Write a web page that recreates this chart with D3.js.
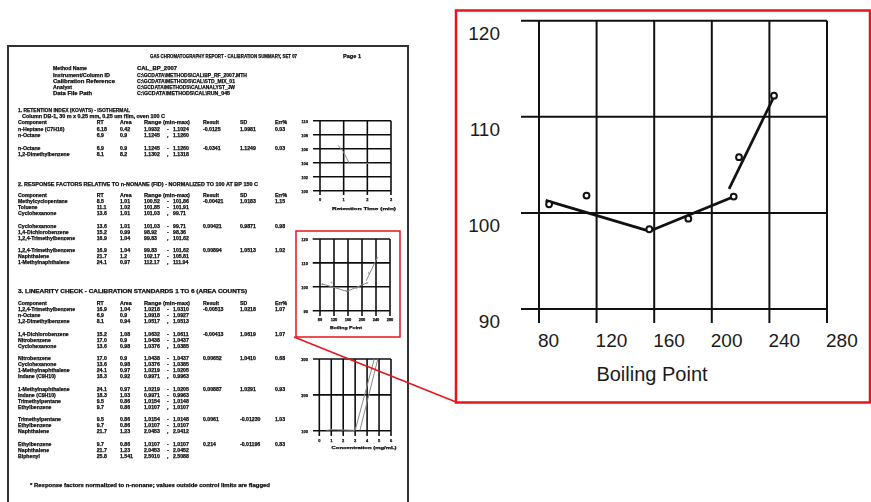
<!DOCTYPE html>
<html>
<head>
<meta charset="utf-8">
<script src="https://cdn.jsdelivr.net/npm/d3@7"></script>
<style>
  body { margin: 0; background: #fff; }
  svg { display: block; }
</style>
</head>
<body>
<svg id="fig" width="871" height="502"></svg>
<script>
// ---------- Enlarged calibration plot: response vs boiling point ----------
const boilingPoint = [87, 113, 156.6, 183.7, 215.2, 218.9, 243.2];
const response     = [100.9, 101.8, 98.3, 99.4, 101.7, 105.8, 112.2];
// piecewise fit, low-boiling branch and high-boiling branch
const fitLowBP  = [84.6, 156.6, 213.8];
const fitLowRF  = [101.3, 98.1, 101.6];
const fitHighBP = [212, 243.2];
const fitHighRF = [102.5, 112.1];
const bpTicks = [80, 120, 160, 200, 240, 280];
const rfTicks = [90, 100, 110, 120];
const xTitle = "Boiling Point";

// ---------- Report page text ----------
const reportTitle = "GAS CHROMATOGRAPHY REPORT - CALIBRATION SUMMARY, SET 07";
const pageLabel = "Page 1";
const infoLabels = ["Method Name", "Instrument/Column ID", "Calibration Reference", "Analyst", "Data File Path"];
const infoValues = ["CAL_BP_2007", "C:\\GCDATA\\METHODS\\CAL\\BP_RF_2007.MTH", "C:\\GCDATA\\METHODS\\CAL\\STD_MIX_01",
                    "C:\\GCDATA\\METHODS\\CAL\\ANALYST_JW", "C:\\GCDATA\\METHODS\\CAL\\RUN_045"];
const colHeader = ["Component", "RT", "Area", "Range (min-max)", "Result", "SD", "Err%"];

const sec1Heading = ["1. RETENTION INDEX (KOVATS) - ISOTHERMAL",
                     "Column DB-1, 30 m x 0.25 mm, 0.25 um film, oven 100 C"];
const sec1Rows = [
  [["n-Heptane (C7H16)", "6.18", "0.42", "1.0932", "1.1024", "-0.0125", "1.0981", "0.03"],
   ["n-Octane", "6.9", "0.9", "1.1245", "1.1260"]],
  [["n-Octane", "6.9", "0.9", "1.1245", "1.1260", "-0.0341", "1.1249", "0.03"],
   ["1,2-Dimethylbenzene", "8.1", "8.2", "1.1302", "1.1318"]]
];

const sec2Heading = "2. RESPONSE FACTORS RELATIVE TO n-NONANE (FID) - NORMALIZED TO 100 AT BP 150 C";
const sec2Rows = [
  [["Methylcyclopentane", "8.5", "1.01", "100.52", "101.86", "-0.00421", "1.0183", "1.15"],
   ["Toluene", "11.1", "1.02", "101.85", "101.91"],
   ["Cyclohexanone", "13.6", "1.01", "101.03", "99.71"]],
  [["Cyclohexanone", "13.6", "1.01", "101.03", "99.71", "0.00421", "0.9871", "0.98"],
   ["1,4-Dichlorobenzene", "15.2", "0.99", "98.92", "98.36"],
   ["1,2,4-Trimethylbenzene", "16.9", "1.04", "99.83", "101.62"]],
  [["1,2,4-Trimethylbenzene", "16.9", "1.04", "99.83", "101.62", "0.00894", "1.0513", "1.02"],
   ["Naphthalene", "21.7", "1.2", "102.17", "105.81"],
   ["1-Methylnaphthalene", "24.1", "0.97", "112.17", "111.94"]]
];

const sec3Heading = "3. LINEARITY CHECK - CALIBRATION STANDARDS 1 TO 6 (AREA COUNTS)";
const sec3Rows = [
  [["1,2,4-Trimethylbenzene", "16.9", "1.04", "1.0218", "1.0310", "-0.00513", "1.0218", "1.07"],
   ["n-Octane", "6.9", "0.9", "1.0918", "1.0927"],
   ["1,2-Dimethylbenzene", "8.1", "0.94", "1.0517", "1.0513"]],
  [["1,4-Dichlorobenzene", "15.2", "1.08", "1.0632", "1.0611", "-0.00413", "1.0619", "1.07"],
   ["Nitrobenzene", "17.0", "0.9", "1.0438", "1.0437"],
   ["Cyclohexanone", "13.6", "0.98", "1.0376", "1.0385"]],
  [["Nitrobenzene", "17.0", "0.9", "1.0438", "1.0437", "0.00652", "1.0410", "0.68"],
   ["Cyclohexanone", "13.6", "0.98", "1.0376", "1.0385"],
   ["1-Methylnaphthalene", "24.1", "0.97", "1.0219", "1.0205"],
   ["Indane (C9H10)", "18.3", "0.92", "0.9971", "0.9963"]],
  [["1-Methylnaphthalene", "24.1", "0.97", "1.0219", "1.0205", "0.00887", "1.0291", "0.93"],
   ["Indane (C9H10)", "18.3", "1.03", "0.9971", "0.9963"],
   ["Trimethylpentane", "9.5", "0.86", "1.0154", "1.0148"],
   ["Ethylbenzene", "9.7", "0.86", "1.0107", "1.0107"]],
  [["Trimethylpentane", "9.5", "0.86", "1.0154", "1.0148", "0.0061", "-0.01230", "1.03"],
   ["Ethylbenzene", "9.7", "0.86", "1.0107", "1.0107"],
   ["Naphthalene", "21.7", "1.23", "2.0453", "2.0412"]],
  [["Ethylbenzene", "9.7", "0.86", "1.0107", "1.0107", "0.214", "-0.01196", "0.83"],
   ["Naphthalene", "21.7", "1.23", "2.0453", "2.0452"],
   ["Biphenyl", "25.8", "1.541", "2.5010", "2.5088"]]
];
const footerNote = "* Response factors normalized to n-nonane; values outside control limits are flagged";

// small page plots
const rtTicks = [0, 1, 2, 3];
const riTicks = [100, 102, 104, 106, 108, 110];
const riTraceX = [0.76, 0.98, 1.24, 2.18];
const riTraceY = [106.5, 105.6, 103.9, 103.9];
const rtTitle = "Retention Time (min)";
const concTicks = [0, 1, 2, 3, 4, 5, 6];
const areaTicks = [100, 200, 300];
const linTraceAX = [0.6, 1.1, 3.0, 4.6];
const linTraceAY = [101, 103, 101, 300];
const linTraceBX = [3.4, 4.9];
const linTraceBY = [101, 300];
const concTitle = "Concentration (mg/mL)";

// ================== drawing ==================
const svg = d3.select("#fig");
svg.append("rect").attr("width", 871).attr("height", 502).attr("fill", "#fff");

const defs = svg.append("defs");
defs.append("filter").attr("id", "soft")
  .attr("x", "-2%").attr("y", "-2%").attr("width", "104%").attr("height", "104%")
  .append("feGaussianBlur").attr("stdDeviation", 0.5);

const page = svg.append("g").attr("filter", "url(#soft)");
page.append("rect")
  .attr("x", 8).attr("y", 46).attr("width", 400).attr("height", 480)
  .attr("fill", "#fff").attr("stroke", "#333").attr("stroke-width", 2);

const FONT = "'Liberation Sans', Arial, sans-serif";
function tiny(g, x, y, s, opt = {}) {
  const t = g.append("text")
    .attr("x", x).attr("y", y)
    .attr("dominant-baseline", "central")
    .attr("font-family", FONT)
    .attr("font-size", opt.size || 5.2)
    .attr("font-weight", "bold")
    .attr("fill", "#0d0d0d")
    .attr("stroke", "#0d0d0d")
    .attr("stroke-width", 0.25)
    .attr("text-anchor", opt.anchor || "start")
    .text(s);
  if (opt.len) t.attr("textLength", opt.len).attr("lengthAdjust", "spacingAndGlyphs");
  return t;
}

// header block
tiny(page, 150, 55.5, reportTitle, { len: 147 });
tiny(page, 343, 55.5, pageLabel, { len: 18 });
const infoY = [67.5, 74.5, 80.5, 86.5, 92.5];
const infoLabelLen = [34, 57, 62, 19, 39];
const infoValueLen = [40, 110, 98, 98, 93];
infoLabels.forEach((s, i) => tiny(page, 53, infoY[i], s, { len: infoLabelLen[i] }));
infoValues.forEach((s, i) => tiny(page, 137, infoY[i], s, { len: infoValueLen[i] }));

// table columns
const colX = { name: 18, rt: 96.7, area: 120, min: 144, dash: 167, max: 173, res: 203, sd: 240, err: 275 };
function header(y) {
  tiny(page, colX.name, y, colHeader[0]);
  tiny(page, colX.rt, y, colHeader[1]);
  tiny(page, colX.area, y, colHeader[2]);
  tiny(page, colX.min, y, colHeader[3], { len: 46 });
  tiny(page, colX.res, y, colHeader[4]);
  tiny(page, colX.sd, y, colHeader[5]);
  tiny(page, colX.err, y, colHeader[6]);
}
function groups(rows, y0, step, gap) {
  let y = y0;
  rows.forEach(group => {
    group.forEach((r, i) => {
      tiny(page, colX.name, y, r[0]);
      tiny(page, colX.rt, y, r[1]);
      tiny(page, colX.area, y, r[2]);
      tiny(page, colX.min, y, r[3]);
      tiny(page, colX.dash, y, i === group.length - 1 ? "," : "-");
      tiny(page, colX.max, y, r[4]);
      if (r.length > 5) {
        tiny(page, colX.res, y, r[5]);
        tiny(page, colX.sd, y, r[6]);
        tiny(page, colX.err, y, r[7]);
      }
      if (i < group.length - 1) y += step;
    });
    y += gap;
  });
}

tiny(page, 18, 110, sec1Heading[0], { len: 112 });
tiny(page, 22, 116, sec1Heading[1], { len: 143 });
header(121.5);
groups(sec1Rows, 129.3, 6, 12.5);

tiny(page, 18, 183.5, sec2Heading, { len: 240 });
header(195);
groups(sec2Rows, 201, 6, 12.5);

tiny(page, 18, 291, sec3Heading, { len: 229 });
header(303);
groups(sec3Rows, 309, 6, 12.5);

tiny(page, 30, 485, footerNote, { len: 240 });

// small grid plot helper
function miniPlot(cfg) {
  const g = page.append("g");
  const x = d3.scaleLinear().domain(cfg.xd).range(cfg.xr);
  const y = d3.scaleLinear().domain(cfg.yd).range(cfg.yr);
  g.selectAll(".h").data(cfg.yt).join("line")
    .attr("x1", cfg.hLeft).attr("x2", cfg.xr[1])
    .attr("y1", d => y(d)).attr("y2", d => y(d))
    .attr("stroke", "#111").attr("stroke-width", 1.6);
  g.selectAll(".v").data(cfg.xt).join("line")
    .attr("x1", d => x(d)).attr("x2", d => x(d))
    .attr("y1", cfg.yr[1]).attr("y2", cfg.vBottom)
    .attr("stroke", "#111").attr("stroke-width", 1.6);
  cfg.yt.forEach(d => tiny(g, 308, y(d) + 0.5, String(d), { size: 4, anchor: "end" }));
  cfg.xt.forEach(d => tiny(g, x(d), cfg.xLabY, String(d), { size: 4, anchor: "middle" }));
  tiny(g, cfg.titleX, cfg.titleY, cfg.title, { size: 4.2, anchor: "middle", len: cfg.titleLen });
  const line = d3.line().x(d => x(d[0])).y(d => y(d[1]));
  cfg.traces.forEach(tr => {
    g.append("path").attr("d", line(d3.zip(tr[0], tr[1])))
      .attr("fill", "none").attr("stroke", "#888").attr("stroke-width", 1);
  });
  return { g, x, y };
}

miniPlot({
  xd: [0, 3], xr: [320, 391], yd: [100, 110], yr: [190.7, 120.7],
  xt: rtTicks, yt: riTicks, hLeft: 313, vBottom: 195, xLabY: 199.5,
  title: rtTitle, titleX: 364, titleY: 208, titleLen: 64,
  traces: [[riTraceX, riTraceY]]
});
const mini = miniPlot({
  xd: [80, 280], xr: [320, 390], yd: [90, 120], yr: [310.7, 239],
  xt: bpTicks, yt: rfTicks, hLeft: 312.7, vBottom: 316, xLabY: 319.5,
  title: xTitle, titleX: 346, titleY: 327.5, titleLen: 32,
  traces: [[fitLowBP, fitLowRF], [fitHighBP, fitHighRF]]
});
mini.g.selectAll("circle.p").data(d3.zip(boilingPoint, response)).join("circle")
  .attr("cx", d => mini.x(d[0])).attr("cy", d => mini.y(d[1])).attr("r", 0.6)
  .attr("fill", "none").attr("stroke", "#666").attr("stroke-width", 0.5);
miniPlot({
  xd: [0, 6], xr: [319.3, 391], yd: [100, 300], yr: [430.7, 359],
  xt: concTicks, yt: areaTicks, hLeft: 313, vBottom: 436, xLabY: 440.5,
  title: concTitle, titleX: 364, titleY: 447.5, titleLen: 65,
  traces: [[linTraceAX, linTraceAY], [linTraceBX, linTraceBY]]
});

// callout frame around the small plot and the leader to the enlargement
svg.append("rect").attr("x", 296).attr("y", 231).attr("width", 104).attr("height", 106)
  .attr("fill", "none").attr("stroke", "#e8141b").attr("stroke-width", 1.5);
svg.append("line").attr("x1", 294).attr("y1", 337).attr("x2", 456).attr("y2", 402)
  .attr("stroke", "#e8141b").attr("stroke-width", 1.5);

// ---------- enlarged plot ----------
const zoomG = svg.append("g");
zoomG.append("rect").attr("x", 456).attr("y", 10.5).attr("width", 414).attr("height", 392)
  .attr("fill", "#fff").attr("stroke", "#e8141b").attr("stroke-width", 2.5);

const x = d3.scaleLinear().domain([80, 280]).range([539, 827]);
const y = d3.scaleLinear().domain([90, 120]).range([309, 20.7]);

zoomG.selectAll("line.h").data(rfTicks).join("line")
  .attr("x1", 521).attr("x2", x(280))
  .attr("y1", d => y(d)).attr("y2", d => y(d))
  .attr("stroke", "#111").attr("stroke-width", 2);
zoomG.selectAll("line.v").data(bpTicks).join("line")
  .attr("x1", d => x(d)).attr("x2", d => x(d))
  .attr("y1", y(120)).attr("y2", y(90) + 14)
  .attr("stroke", "#111").attr("stroke-width", 2);

zoomG.selectAll("text.yl").data(rfTicks).join("text")
  .attr("x", 500).attr("y", d => y(d) + 12.5)
  .attr("text-anchor", "end").attr("dominant-baseline", "central")
  .attr("font-family", FONT).attr("font-size", 19).attr("fill", "#1a1a1a")
  .text(d => d);
zoomG.selectAll("text.xl").data(bpTicks).join("text")
  .attr("x", d => x(d) - 1).attr("y", 340)
  .attr("text-anchor", "start").attr("dominant-baseline", "central")
  .attr("font-family", FONT).attr("font-size", 19).attr("fill", "#1a1a1a")
  .text(d => d);
zoomG.append("text").attr("x", 652).attr("y", 374)
  .attr("text-anchor", "middle").attr("dominant-baseline", "central")
  .attr("font-family", FONT).attr("font-size", 20).attr("fill", "#1a1a1a")
  .text(xTitle);

const fit = d3.line().x(d => x(d[0])).y(d => y(d[1]));
zoomG.append("path").attr("d", fit(d3.zip(fitLowBP, fitLowRF)))
  .attr("fill", "none").attr("stroke", "#111").attr("stroke-width", 2.7).attr("stroke-linejoin", "round");
zoomG.append("path").attr("d", fit(d3.zip(fitHighBP, fitHighRF)))
  .attr("fill", "none").attr("stroke", "#111").attr("stroke-width", 2.7);

zoomG.selectAll("circle.pt").data(d3.zip(boilingPoint, response)).join("circle")
  .attr("cx", d => x(d[0])).attr("cy", d => y(d[1])).attr("r", 2.9)
  .attr("fill", "#fff").attr("stroke", "#111").attr("stroke-width", 2);
</script>
</body>
</html>
